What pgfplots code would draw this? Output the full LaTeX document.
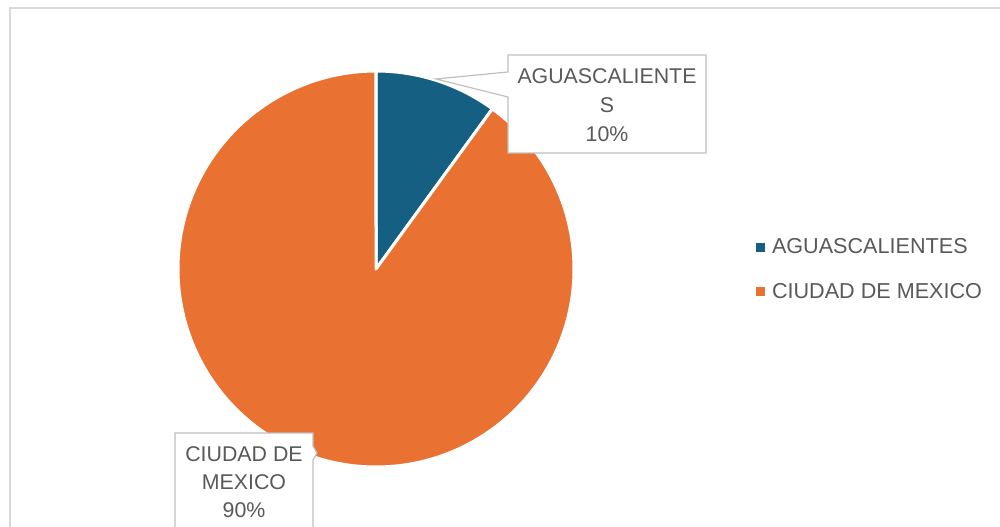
\documentclass[border=0pt]{standalone}
\usepackage{pgfplots}
\pgfplotsset{compat=1.18}
\usepackage{pgfplotstable}
\usepackage{fontspec}
\setmainfont{Liberation Sans}
\definecolor{cA}{HTML}{156082}
\definecolor{cB}{HTML}{E97132}
\definecolor{txt}{HTML}{595959}
\definecolor{bord}{HTML}{D9D9D9}
\definecolor{lbl}{HTML}{BFBFBF}

\pgfplotstableread[col sep=comma]{
name,value
AGUASCALIENTES,10
CIUDAD DE MEXICO,90
}\piedata
\pgfplotstablegetelem{0}{value}\of\piedata \pgfmathsetmacro{\va}{\pgfplotsretval}
\pgfplotstablegetelem{1}{value}\of\piedata \pgfmathsetmacro{\vb}{\pgfplotsretval}
\pgfmathsetmacro{\tot}{\va+\vb}
\pgfmathsetmacro{\fa}{\va/\tot}
\pgfmathsetmacro{\fb}{\vb/\tot}
\pgfmathsetmacro{\aA}{90}
\pgfmathsetmacro{\aB}{90-360*\fa}
\pgfmathsetmacro{\aC}{\aB-360*\fb}
\pgfmathtruncatemacro{\pA}{round(100*\fa)}
\pgfmathtruncatemacro{\pB}{round(100*\fb)}

\begin{document}%
\begin{tikzpicture}
\useasboundingbox (0,0) rectangle (750pt,395.25pt);
\clip (0,0) rectangle (750pt,395.25pt);
\begin{axis}[
  at={(0,0)}, anchor=south west,
  width=750pt, height=395.25pt, scale only axis,
  xmin=0, xmax=1000, ymin=0, ymax=527, y dir=reverse,
  hide axis, clip=true,
  legend style={at={(axis cs:752,269.5)}, anchor=west, draw=none, fill=none,
    text=txt, font=\fontsize{16.2}{19}\selectfont, row sep=16.75pt,
    /tikz/every odd column/.append style={column sep=3pt}},
  legend cell align=left,
  legend image code/.code={\path[#1,draw=none] (0pt,-3.4pt) rectangle (6.8pt,3.4pt);},
]
% chart border
\draw[bord, line width=1.5pt] (axis cs:10,560) -- (axis cs:10,8) -- (axis cs:1020,8);
% pie slices
\addplot[fill=cA, draw=white, line width=2.25pt, line join=round, domain=\aB:\aA, samples=40, variable=\t]
  ({376+198*cos(\t)},{269-198*sin(\t)}) -- (axis cs:376,269) -- cycle;
\addlegendentry{AGUASCALIENTES}
\addplot[fill=cB, draw=white, line width=2.25pt, line join=round, domain=\aC:\aB, samples=200, variable=\t]
  ({376+198*cos(\t)},{269-198*sin(\t)}) -- (axis cs:376,269) -- cycle;
\addlegendentry{CIUDAD DE MEXICO}
% data label callouts
\draw[lbl, fill=white, line width=0.9pt, line join=miter]
  (axis cs:508,55) -- (axis cs:706,55) -- (axis cs:706,153) -- (axis cs:508,153)
  -- (axis cs:508,97) -- (axis cs:436,79) -- (axis cs:508,72) -- cycle;
\node[text=txt, align=center, font=\fontsize{16}{22}\selectfont, inner sep=0pt]
  at (axis cs:607,105) {AGUASCALIENTE\\S\\\pA\%};
\draw[lbl, fill=white, line width=0.9pt, line join=miter]
  (axis cs:175,560) -- (axis cs:175,433) -- (axis cs:313,433) -- (axis cs:313,446)
  -- (axis cs:317,453) -- (axis cs:313,460) -- (axis cs:313,560);
\node[text=txt, align=center, font=\fontsize{16}{21}\selectfont, inner sep=0pt]
  at (axis cs:244,482) {CIUDAD DE\\MEXICO\\\pB\%};
\end{axis}
\end{tikzpicture}%
\end{document}
